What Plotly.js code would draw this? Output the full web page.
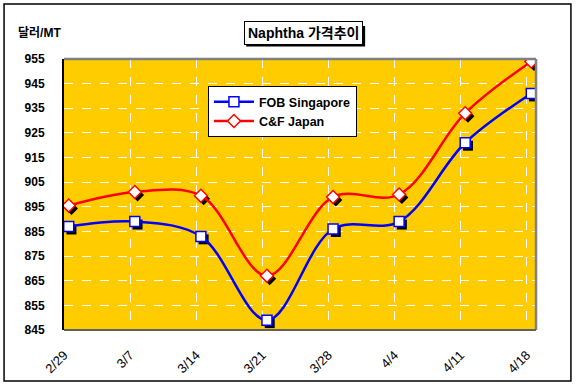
<!DOCTYPE html>
<html>
<head>
<meta charset="utf-8">
<script src="https://cdn.plot.ly/plotly-3.0.1.min.js"></script>
<style>
html,body{margin:0;padding:0;background:#fff;}
#chart{width:576px;height:391px;}
</style>
</head>
<body>
<div id="chart"></div>
<script>
// Data
const dates = ['2008-02-29','2008-03-07','2008-03-14','2008-03-21','2008-03-28','2008-04-04','2008-04-11','2008-04-18'];
const tickLabels = ['2/29','3/7','3/14','3/21','3/28','4/4','4/11','4/18'];
const fobSingapore = [887, 889, 883, 849, 886, 889, 921, 941];
const cfJapan = [895.5, 901, 899.5, 867, 899, 900, 933, 954];
const seriesNames = ['FOB Singapore', 'C&F Japan'];

const xPts = dates.map(d => d + ' 12:00');
const xShadow = dates.map(d => d + ' 19:00');
const shadowY = v => v.map(y => y - 1.2);

const traces = [
  {x: xShadow, y: shadowY(fobSingapore), mode: 'markers', showlegend: false, hoverinfo: 'skip',
   marker: {symbol: 'square', size: 10, color: '#000'}},
  {x: xShadow, y: shadowY(cfJapan), mode: 'markers', showlegend: false, hoverinfo: 'skip',
   marker: {symbol: 'diamond', size: 10, color: '#000'}},
  {x: xPts, y: fobSingapore, name: seriesNames[0], mode: 'lines+markers',
   line: {color: '#0000ff', width: 2.5, shape: 'spline', smoothing: 1},
   marker: {symbol: 'square', size: 10, color: '#fff', line: {color: '#0000ff', width: 1.5}}},
  {x: xPts, y: cfJapan, name: seriesNames[1], mode: 'lines+markers',
   line: {color: '#ff0000', width: 2.5, shape: 'spline', smoothing: 1},
   marker: {symbol: 'diamond', size: 10, color: '#fff', line: {color: '#ff0000', width: 1.5}}}
];

const layout = {
  width: 576, height: 391,
  margin: {l: 64, r: 40, t: 59, b: 61},
  paper_bgcolor: '#ffffff',
  plot_bgcolor: '#ffcc00',
  showlegend: true,
  font: {family: 'Liberation Sans, Arial, sans-serif', color: '#000'},
  xaxis: {
    type: 'date',
    range: ['2008-02-29', '2008-04-19'],
    tickmode: 'array', tickvals: dates, ticktext: tickLabels,
    tickangle: -45,
    tickfont: {size: 13, color: '#000'},
    ticks: '', ticklabelstandoff: 14,
    showgrid: true, gridcolor: '#ffffff', griddash: 'dash', gridwidth: 1,
    zeroline: false, showline: false, fixedrange: true
  },
  yaxis: {
    range: [845, 955],
    tick0: 845, dtick: 10,
    tickfont: {size: 12, color: '#000', weight: 'bold'},
    ticks: '', ticklabelstandoff: 15,
    showgrid: true, gridcolor: '#ffffff', griddash: 'dash', gridwidth: 1,
    zeroline: false, showline: true, linecolor: '#000', linewidth: 2, fixedrange: true
  },
  legend: {
    x: 0.305, y: 0.90, xanchor: 'left', yanchor: 'top',
    bgcolor: '#ffffff', bordercolor: '#000', borderwidth: 1,
    font: {size: 12.5, color: '#000', weight: 'bold'},
    itemwidth: 40, tracegroupgap: 0
  },
  shapes: [
    {type: 'line', xref: 'paper', yref: 'paper', x0: 0, x1: 1, y0: 1, y1: 1, line: {color: '#808080', width: 2.5}},
    {type: 'line', xref: 'paper', yref: 'paper', x0: 1, x1: 1, y0: 0, y1: 1, line: {color: '#808080', width: 2.5}},
    {type: 'line', xref: 'paper', yref: 'paper', x0: 0, x1: 1, y0: 0, y1: 0, line: {color: '#606060', width: 2}},
    {type: 'rect', xref: 'paper', yref: 'paper', x0: -0.127, x1: 1.074, y0: -0.188, y1: 1.203, line: {color: '#000', width: 1.5}},
    // title box shadow
    {type: 'rect', xref: 'paper', yref: 'paper', x0: 0.386, x1: 0.638, y0: 1.046, y1: 1.122, fillcolor: '#000', line: {color: '#000', width: 0}}
  ],
  annotations: [
    {text: 'Naphtha 가격추이', xref: 'paper', yref: 'paper', x: 0.508, y: 1.096,
     xanchor: 'center', yanchor: 'middle', showarrow: false,
     font: {family: 'Liberation Sans, Noto Sans CJK KR', size: 14, color: '#000', weight: 'bold'},
     bgcolor: '#fff', bordercolor: '#000', borderwidth: 1, borderpad: 3},
    {text: '달러/MT', xref: 'paper', yref: 'paper', x: -0.051, y: 1.096,
     xanchor: 'center', yanchor: 'middle', showarrow: false,
     font: {family: 'Liberation Sans, Noto Sans CJK KR', size: 12, color: '#000', weight: 'bold'}}
  ]
};

Plotly.newPlot('chart', traces, layout, {displayModeBar: false, staticPlot: true});
</script>
</body>
</html>
